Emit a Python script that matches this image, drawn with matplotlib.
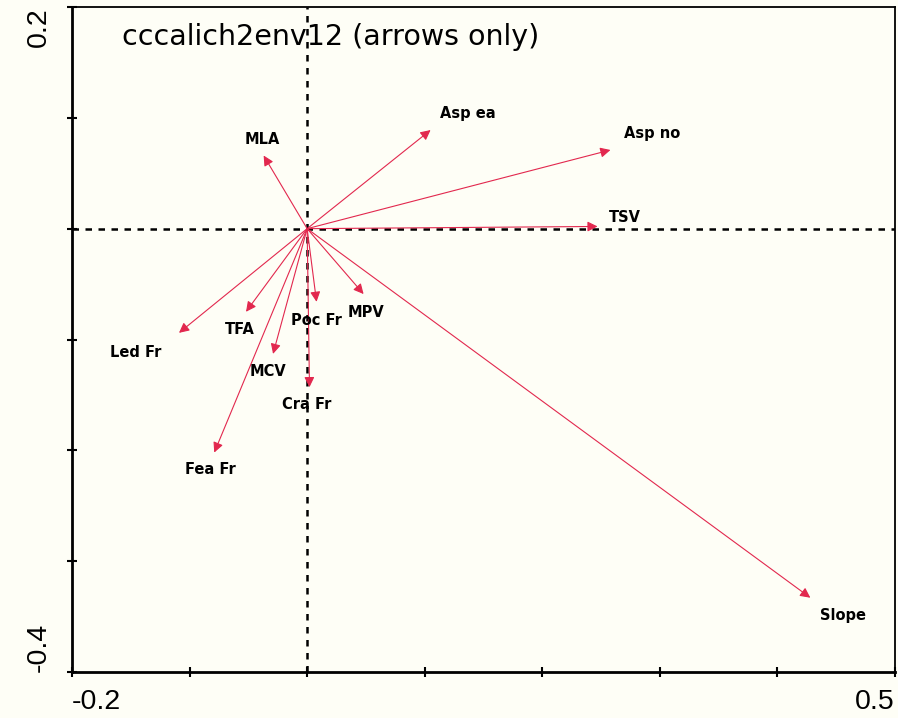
"""
Biplot of environmental arrows (CCA, arrows only) redrawn with matplotlib.
"""

import matplotlib
matplotlib.use("Agg")
import matplotlib.pyplot as plt
import matplotlib.transforms as mtransforms
import numpy as np

# ---------------------------------------------------------------------------
# Data
# ---------------------------------------------------------------------------
TITLE = "cccalich2env12 (arrows only)"

VARIABLES = ["Asp ea", "Asp no", "TSV", "MLA", "Slope", "Led Fr", "TFA",
             "Poc Fr", "MPV", "MCV", "Cra Fr", "Fea Fr"]
ARROW_X = [0.105, 0.258, 0.247, -0.037, 0.428, -0.109, -0.052,
           0.008, 0.048, -0.029, 0.002, -0.079]
ARROW_Y = [0.089, 0.071, 0.002, 0.066, -0.333, -0.094, -0.075,
           -0.066, -0.059, -0.113, -0.143, -0.202]
LABEL_X = [0.137, 0.293, 0.270, -0.038, 0.456, -0.146, -0.057,
           0.008, 0.050, -0.033, 0.000, -0.082]
LABEL_Y = [0.104, 0.086, 0.010, 0.080, -0.349, -0.112, -0.091,
           -0.083, -0.076, -0.129, -0.159, -0.217]

X_LIM = (-0.2, 0.5)
Y_LIM = (-0.4, 0.2)
X_TICKS = np.arange(-0.2, 0.501, 0.1)
Y_TICKS = np.arange(-0.4, 0.201, 0.1)
X_TICK_LABELS = {-0.2: "-0.2", 0.5: "0.5"}
Y_TICK_LABELS = {0.2: "0.2", -0.4: "-0.4"}

BG = "#fefef6"
ARROW_COLOR = "#e2284e"

# ---------------------------------------------------------------------------
# Figure
# ---------------------------------------------------------------------------
fig = plt.figure(figsize=(8.98, 7.18), dpi=100, facecolor=BG)
ax = fig.add_axes([72 / 898, 46 / 718, 823 / 898, 665 / 718])
ax.set_facecolor(BG)
ax.set_xlim(*X_LIM)
ax.set_ylim(*Y_LIM)

# zero reference lines
ax.axvline(0, color="black", lw=1.8, ls=(0, (2.6, 2.6)), zorder=1)
ax.axhline(0, color="black", lw=1.8, ls=(0, (2.6, 2.6)), zorder=1)

# arrows
for name, ax_, ay, lx, ly in zip(VARIABLES, ARROW_X, ARROW_Y, LABEL_X, LABEL_Y):
    ax.annotate(
        "", xy=(ax_, ay), xytext=(0, 0),
        arrowprops=dict(arrowstyle="-|>", color=ARROW_COLOR, lw=0.8,
                        mutation_scale=15, shrinkA=0, shrinkB=0),
        zorder=3,
    )
    ax.text(lx, ly, name, ha="center", va="center", fontsize=10.5,
            fontweight="bold", family="DejaVu Sans", color="black", zorder=4)

# title inside the plot box
ax.text(50 / 823, 0.955, TITLE, transform=ax.transAxes,
        ha="left", va="center", fontsize=20.5, family="DejaVu Sans")

# ticks: marks everywhere, labels only at the ends
ax.set_xticks(X_TICKS)
ax.set_yticks(Y_TICKS)
ax.set_xticklabels([])
ax.set_yticklabels([])
ax.tick_params(direction="inout", length=7, width=1.5, color="black")

bx = mtransforms.blended_transform_factory(ax.transData, ax.transAxes)
by = mtransforms.blended_transform_factory(ax.transAxes, ax.transData)
for val, lab in X_TICK_LABELS.items():
    ax.text(val, -0.025, lab, transform=bx, ha="left" if val < 0 else "right",
            va="top", fontsize=20.5, family="Liberation Sans")
for val, lab in Y_TICK_LABELS.items():
    ax.text(-0.024, val, lab, transform=by, ha="right",
            va="top" if val > 0 else "bottom", rotation=90, fontsize=20.5,
            family="Liberation Sans")

for side in ["left", "bottom"]:
    ax.spines[side].set_linewidth(2.0)
for side in ["top", "right"]:
    ax.spines[side].set_linewidth(1.3)

fig.savefig("out.png", dpi=100, facecolor=BG)
